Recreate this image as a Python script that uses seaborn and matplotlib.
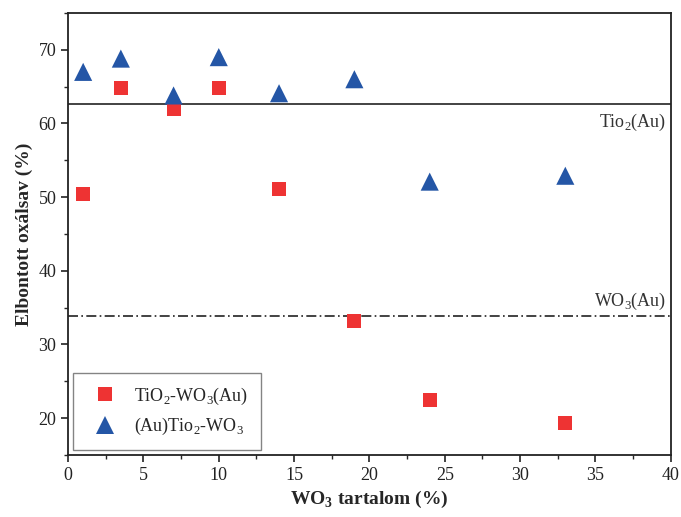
import matplotlib
matplotlib.use("Agg")
import matplotlib.pyplot as plt
import pandas as pd
import seaborn as sns
from matplotlib.ticker import MultipleLocator

WO3_CONTENT = [1, 3.5, 7, 10, 14, 19, 24, 33]
TIO2_WO3_AU = [50.4, 64.8, 62.0, 64.8, 51.1, 33.2, 22.5, 19.3]
AU_TIO2_WO3 = [67.0, 68.8, 63.8, 69.0, 64.1, 66.0, 52.1, 52.9]
SERIES = ["TiO$_2$-WO$_3$(Au)", "(Au)Tio$_2$-WO$_3$"]
REF_TIO2_AU = 62.6
REF_WO3_AU = 33.8

df = pd.DataFrame({
    "x": WO3_CONTENT * 2,
    "y": TIO2_WO3_AU + AU_TIO2_WO3,
    "series": [SERIES[0]] * len(WO3_CONTENT) + [SERIES[1]] * len(WO3_CONTENT),
})

sns.set_theme(style="ticks")
plt.rcParams["font.family"] = ["Liberation Serif", "DejaVu Serif"]
plt.rcParams["mathtext.fontset"] = "custom"
plt.rcParams["mathtext.rm"] = "Liberation Serif"
plt.rcParams["mathtext.bf"] = "Liberation Serif:bold"

fig = plt.figure(figsize=(6.81, 5.17), dpi=100)
ax = fig.add_axes([0.1, 0.12, 0.885, 0.855])

sns.scatterplot(
    data=df, x="x", y="y", hue="series", style="series", size="series",
    palette=["#ee3333", "#2456a6"], markers=["s", "^"],
    sizes={SERIES[0]: 100, SERIES[1]: 170},
    linewidth=0, ax=ax, zorder=3,
)

ax.axhline(REF_TIO2_AU, color="#222222", lw=1.2, zorder=2)
ax.axhline(REF_WO3_AU, color="#222222", lw=1.2, ls=(0, (6, 2, 1, 2)), zorder=2)
ax.text(39.7, REF_TIO2_AU - 1.0, "Tio$_2$(Au)", ha="right", va="top", fontsize=13, color="#333333")
ax.text(39.7, REF_WO3_AU + 0.6, "WO$_3$(Au)", ha="right", va="bottom", fontsize=13, color="#333333")

ax.set_xlim(0, 40)
ax.set_ylim(15, 75)
ax.xaxis.set_major_locator(MultipleLocator(5))
ax.xaxis.set_minor_locator(MultipleLocator(2.5))
ax.yaxis.set_major_locator(MultipleLocator(10))
ax.yaxis.set_minor_locator(MultipleLocator(5))
ax.set_yticks([20, 30, 40, 50, 60, 70])
ax.tick_params(axis="both", which="major", direction="out", length=5, width=1.2,
               labelsize=13, colors="#222222", top=False, right=False)
ax.tick_params(axis="both", which="minor", direction="out", length=3, width=1.0,
               top=False, right=False)
for sp in ax.spines.values():
    sp.set_color("#222222")
    sp.set_linewidth(1.3)

ax.set_xlabel("WO$_\\mathbf{3}$ tartalom (%)", fontsize=14, fontweight="bold")
ax.set_ylabel("Elbontott oxálsav (%)", fontsize=14, fontweight="bold")

leg = ax.legend(title=None, loc="lower left", bbox_to_anchor=(0.008, 0.012),
                borderaxespad=0, fontsize=13, frameon=True, fancybox=False,
                borderpad=0.7, labelspacing=0.5, handletextpad=0.5,
                handlelength=2.2)
leg.get_frame().set_edgecolor("#666666")
leg.get_frame().set_linewidth(1.0)

fig.savefig("out.png", dpi=100)
